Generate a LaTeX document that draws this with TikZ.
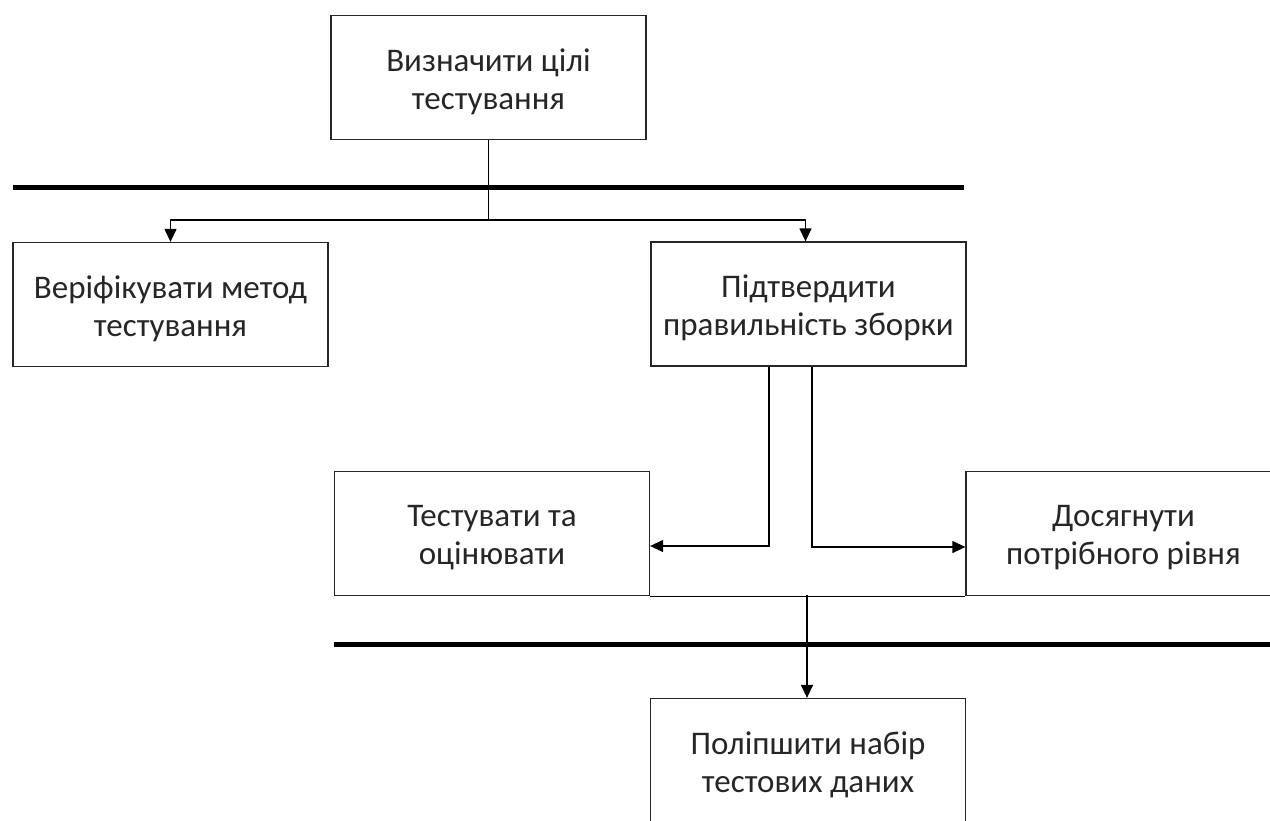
\documentclass[tikz,border=0pt]{standalone}
\usepackage{fontspec}
\setmainfont{Carlito}
\usetikzlibrary{arrows.meta}
\begin{document}
\begin{tikzpicture}[x=1pt,y=-1pt,
  stepbox/.style={draw=black!85, line width=1.3pt, rectangle,
    minimum width=315pt, minimum height=124pt, inner sep=0pt},
  steptext/.style={align=center, inner sep=0pt,
    font=\fontsize{33pt}{38pt}\selectfont, text=black!85},
  link/.style={draw=black, line width=1.3pt},
  arr/.style={link, -{Triangle[length=13pt,width=12pt]}},
  bar/.style={draw=black, line width=5pt}]
\useasboundingbox (0,0) rectangle (1270,820);
\clip (0,0) rectangle (1270,820);
\fill[white] (0,0) rectangle (1270,820);

% boxes
\node[stepbox] (goals)  at (488.5,77.5) {};
\node[stepbox] (verify) at (170.5,304.5) {};
\node[stepbox] (build)  at (808.5,304)  {};
\node[stepbox] (eval)   at (492,533.5)  {};
\node[stepbox] (level)  at (1123.5,533.5) {};
\node[stepbox] (data)   at (808,760.5)  {};

% box captions, set slightly below each box centre
\node[steptext] (goalsT)  at ([yshift=-4pt]goals.center)  {Визначити цілі\\тестування};
\node[steptext] (verifyT) at ([yshift=-4pt]verify.center) {Веріфікувати метод\\тестування};
\node[steptext] (buildT)  at ([yshift=-4pt]build.center)  {Підтвердити\\правильність зборки};
\node[steptext] (evalT)   at ([yshift=-4pt]eval.center)   {Тестувати та\\оцінювати};
\node[steptext] (levelT)  at ([yshift=-4pt]level.center)  {Досягнути\\потрібного рівня};
\node[steptext] (dataT)   at ([yshift=-4pt]data.center)   {Поліпшити набір\\тестових даних};

% synchronisation bars
\coordinate (barAl) at (13,187);
\coordinate (barAr) at (964,187);
\coordinate (barBl) at (334,644);
\coordinate (barBr) at (1275,644);
\draw[bar] (barAl) -- (barAr);
\draw[bar] (barBl) -- (barBr);

% fork from the first step
\coordinate (fork) at (goals.south |- 0,220);
\draw[link] (goals.south) -- (fork);
\draw[arr] (fork) -| (verify.north);
\draw[arr] (fork) -| ([xshift=-3pt]build.north);

% branches from the assembly check
\coordinate (bl) at (769,0);
\coordinate (br) at (812,0);
\draw[arr] (bl |- build.south) |- ([yshift=-12.5pt]eval.east);
\draw[arr] (br |- build.south) |- ([yshift=-13.5pt]level.west);

% join to the last step
\draw[link] (eval.south east) -- (level.south west);
\coordinate (join) at (807,595);
\draw[arr] (join) -- (join |- data.north);
\end{tikzpicture}
\end{document}
